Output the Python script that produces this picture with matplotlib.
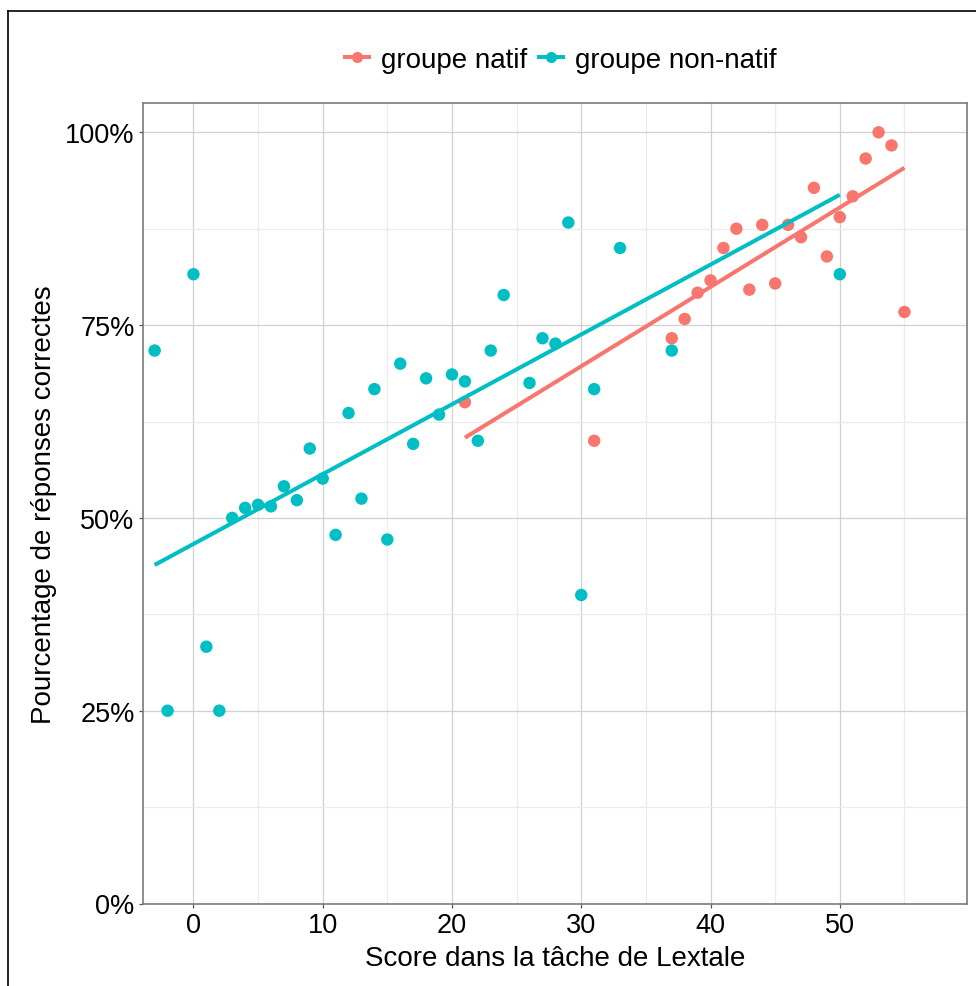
import numpy as np
import matplotlib
matplotlib.use("Agg")
import matplotlib.pyplot as plt
from matplotlib.lines import Line2D
from matplotlib.ticker import FixedLocator, PercentFormatter

plt.rcParams["font.family"] = ["Liberation Sans", "DejaVu Sans"]

# groupe natif
natif_x = [21, 31, 37, 38, 39, 40, 41, 42, 43, 44, 45, 46, 47, 48, 49, 50, 51, 52, 53, 54, 55]
natif_y = [65.0, 60.0, 73.3, 75.8, 79.2, 80.8, 85.0, 87.5, 79.6, 88.0, 80.4, 88.0, 86.4,
           92.8, 83.9, 89.0, 91.7, 96.6, 100.0, 98.3, 76.7]
# regression line as drawn in the chart (end points)
natif_fit_x = [21, 55]
natif_fit_y = [60.4, 95.4]

# groupe non-natif
nonnatif_x = [-3, -2, 0, 1, 2, 3, 4, 5, 6, 7, 8, 9, 10, 11, 12, 13, 14, 15, 16, 17, 18, 19,
              20, 21, 22, 23, 24, 26, 27, 28, 29, 30, 31, 33, 37, 50]
nonnatif_y = [71.7, 25.0, 81.6, 33.3, 25.0, 50.0, 51.3, 51.7, 51.5, 54.1, 52.3, 59.0, 55.1,
              47.8, 63.6, 52.5, 66.7, 47.2, 70.0, 59.6, 68.1, 63.4, 68.6, 67.7, 60.0, 71.7,
              78.9, 67.5, 73.3, 72.6, 88.3, 40.0, 66.7, 85.0, 71.7, 81.6]
nonnatif_fit_x = [-3, 50]
nonnatif_fit_y = [43.9, 91.9]

groups = [
    ("groupe natif", natif_x, natif_y, natif_fit_x, natif_fit_y, "#F8766D"),
    ("groupe non-natif", nonnatif_x, nonnatif_y, nonnatif_fit_x, nonnatif_fit_y, "#00BFC4"),
]

fig = plt.figure(figsize=(9.76, 9.87), dpi=100)
ax = fig.add_axes([143 / 976, 1 - 904.5 / 987, (966.5 - 143) / 976, (904.5 - 104) / 987])

handles = []
for label, xs, ys, fx, fy, color in groups:
    ax.scatter(xs, np.array(ys) / 100, s=80, color=color, edgecolors="none", zorder=3)
    ax.plot(fx, np.array(fy) / 100, color=color, lw=2.9, zorder=4, solid_capstyle="butt")
    handles.append(Line2D([], [], color=color, lw=2.9, marker="o", markersize=8,
                          markeredgewidth=0, label=label))

ax.set_xlim(-3.9, 59.8)
ax.set_ylim(0, 1.038)
ax.set_xticks([0, 10, 20, 30, 40, 50])
ax.set_yticks([0, 0.25, 0.5, 0.75, 1.0])
ax.xaxis.set_minor_locator(FixedLocator([5, 15, 25, 35, 45, 55]))
ax.yaxis.set_minor_locator(FixedLocator([0.125, 0.375, 0.625, 0.875]))
ax.yaxis.set_major_formatter(PercentFormatter(1.0, decimals=0))

ax.grid(which="major", color="#d0d0d0", lw=0.9)
ax.grid(which="minor", color="#ebebeb", lw=0.9)
ax.set_axisbelow(True)
ax.tick_params(which="major", length=3, width=0.9, color="#555555",
               labelsize=19.5, labelcolor="black", pad=3)
ax.tick_params(which="minor", length=0)
for sp in ax.spines.values():
    sp.set_color("#7a7a7a")
    sp.set_linewidth(1.2)

ax.set_xlabel("Score dans la tâche de Lextale", fontsize=20, labelpad=5)
ax.set_ylabel("Pourcentage de réponses correctes", fontsize=20, labelpad=6)

fig.legend(handles=handles, loc="center", bbox_to_anchor=(561 / 976, 1 - 61 / 987),
           ncol=2, frameon=False, fontsize=20, handlelength=0.86, handletextpad=0.43,
           columnspacing=0.43)

# outer frame (cut at right and bottom edges)
fig.add_artist(Line2D([8 / 976, 8 / 976], [0, 1 - 12 / 987], color="black", lw=1.2,
                      transform=fig.transFigure))
fig.add_artist(Line2D([8 / 976, 1], [1 - 12 / 987, 1 - 12 / 987], color="black", lw=1.2,
                      transform=fig.transFigure))

fig.savefig("out.png", dpi=100)
